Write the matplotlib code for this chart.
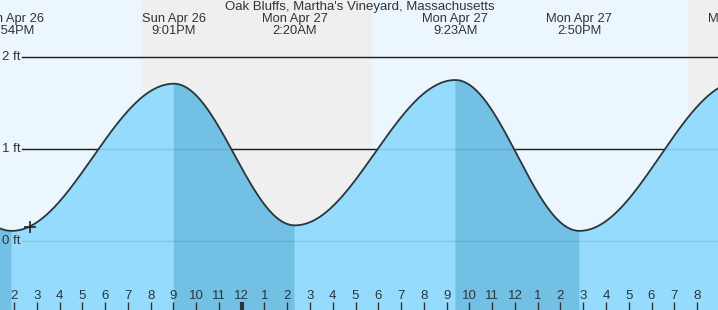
import numpy as np
import matplotlib.pyplot as plt

# tide extremes, hours since Sun Apr 26 00:00, height in ft
ext_hours = [7.67, 13.9, 21.017, 26.333, 33.383, 38.833, 45.93]
ext_ft = [1.75, 0.11, 1.71, 0.17, 1.75, 0.11, 1.74]
ext_day = ["Sun Apr 26", "Sun Apr 26", "Sun Apr 26", "Mon Apr 27", "Mon Apr 27", "Mon Apr 27", "Mon Apr 27"]
ext_time = ["7:40AM", "1:54PM", "9:01PM", "2:20AM", "9:23AM", "2:50PM", "9:56PM"]

# night (sunset -> sunrise)
night = [(19.58, 29.72), (43.6, 47.0)]
now_hour = 14.7
now_ft = 0.15

title = "Oak Bluffs, Martha's Vineyard, Massachusetts"
ft_levels = [0, 1, 2]
hour_ticks = list(range(14, 45))

x0, x1 = 13.385, 44.92
y0, y1 = -0.75, 2.62

plt.rcParams['font.family'] = ['Liberation Sans', 'DejaVu Sans']

fig = plt.figure(figsize=(7.18, 3.10), dpi=100)
ax = fig.add_axes([0, 0, 1, 1])
ax.set_xlim(x0, x1)
ax.set_ylim(y0, y1)
ax.axis('off')

day_col = '#ebf6fe'
night_col = '#efefef'
water = '#95dbfd'
water_dark = '#73c0e5'

ax.axvspan(x0, x1, color=day_col, zorder=0, lw=0)
for a, b in night:
    ax.axvspan(a, b, color=night_col, zorder=0, lw=0)

# tide curve (cosine between extremes)
t = np.linspace(x0, x1, 2000)
h = np.zeros_like(t)
ebb = np.zeros_like(t, dtype=bool)
for i in range(len(ext_hours) - 1):
    ta, tb = ext_hours[i], ext_hours[i + 1]
    ha, hb = ext_ft[i], ext_ft[i + 1]
    m = (t >= ta) & (t <= tb)
    h[m] = ha + (hb - ha) * (1 - np.cos(np.pi * (t[m] - ta) / (tb - ta))) / 2
    if hb < ha:
        ebb[m] = True

# ft lines under water
for lv in ft_levels[1:]:
    ax.plot([13.385 + 22 / 22.77, x1], [lv, lv], color='#222222', lw=1, zorder=1)

ax.fill_between(t, y0, h, color=water, lw=0, zorder=2)
ax.fill_between(t, y0, h, where=ebb, color=water_dark, lw=0, zorder=2)
ax.plot(t, h, color='#333333', lw=1.3, zorder=4)

for lv in ft_levels:
    ax.plot([13.385 + 22 / 22.77, x1], [lv, lv], color='#000000', alpha=0.1, lw=1, zorder=3)
    ax.text(13.385 + 2 / 22.77, lv, f"{lv} ft", fontsize=9.5, color='#333333',
            ha='left', va='center', zorder=5)

ax.plot(now_hour, now_ft, marker='+', ms=9, mew=1.2, color='#222222', zorder=5)

# hour ticks
for hr in hour_ticks:
    lab = hr % 12 or 12
    ax.text(hr, -0.6, str(lab), fontsize=9.5, color='#333333', ha='center', va='center', zorder=5)
    ax.plot([hr, hr], [-0.665, -0.75], color='#333333',
            lw=3 if hr % 24 == 0 else 1, zorder=5, solid_capstyle='butt')

# extreme labels
for hr, d, tm in zip(ext_hours, ext_day, ext_time):
    ax.text(hr, 2.62 - 19 / 92, d, fontsize=9.3, color='#333333', ha='center', va='center', zorder=5)
    ax.text(hr, 2.62 - 31 / 92, tm, fontsize=9.3, color='#333333', ha='center', va='center', zorder=5)

ax.text((x0 + x1) / 2 + 0.02, 2.62 - 7 / 92, title, fontsize=9.5, color='#333333',
        ha='center', va='center', zorder=5)

fig.savefig('out.png', dpi=100)
